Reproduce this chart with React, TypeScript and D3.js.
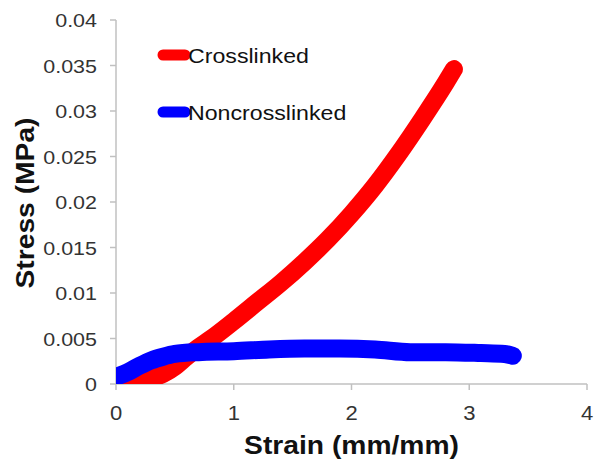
import React from "react";
import * as d3 from "d3";

const crossStrain = [0.12, 0.25, 0.4, 0.5, 0.6, 0.7, 0.8, 1.0, 1.2, 1.4, 1.6, 1.8, 2.0, 2.2, 2.4, 2.6, 2.8, 2.87];
const crossStress = [0.0, 0.0005, 0.0011, 0.0019, 0.003, 0.004, 0.0049, 0.0069, 0.009, 0.0111, 0.0134, 0.0159, 0.0187, 0.0218, 0.0253, 0.0291, 0.0331, 0.0346];

const nonStrain = [0.0, 0.1, 0.2, 0.3, 0.4, 0.5, 0.7, 1.0, 1.3, 1.6, 1.9, 2.2, 2.5, 2.8, 3.1, 3.3, 3.37];
const nonStress = [0.0008, 0.0013, 0.002, 0.0026, 0.003, 0.0033, 0.0035, 0.0036, 0.0038, 0.0039, 0.0039, 0.0038, 0.0035, 0.0035, 0.0034, 0.0033, 0.0031];

const xTicks = [0, 1, 2, 3, 4];
const yTicks = [0, 0.005, 0.01, 0.015, 0.02, 0.025, 0.03, 0.035, 0.04];
const yTickLabels = ["0", "0.005", "0.01", "0.015", "0.02", "0.025", "0.03", "0.035", "0.04"];

const seriesNames = ["Crosslinked", "Noncrosslinked"];
const seriesColors = ["#ff0000", "#0000ff"];

const W = 594;
const H = 463;
const SX = 1.13;
const FONT = "'Liberation Sans', Arial, sans-serif";

export default function App() {
  const x = d3.scaleLinear().domain([0, 4]).range([116, 587]);
  const y = d3.scaleLinear().domain([0, 0.04]).range([384, 20]);

  const line = d3
    .line<[number, number]>()
    .x((d) => x(d[0]))
    .y((d) => y(d[1]))
    .curve(d3.curveMonotoneX);

  const cross: [number, number][] = crossStrain.map((v, i) => [v, crossStress[i]]);
  const non: [number, number][] = nonStrain.map((v, i) => [v, nonStress[i]]);

  const axisColor = "#c0c0c0";

  return (
    <svg
      width={W}
      height={H}
      style={{ position: "absolute", left: 0, top: 0, background: "#fff" }}
    >
      <defs>
        <clipPath id="plotClip">
          <rect x={x(0)} y={0} width={x(4) - x(0) + 20} height={y(0) - 0} />
        </clipPath>
      </defs>
      {/* axes */}
      <line x1={x(0)} x2={x(0)} y1={y(0.04)} y2={y(0)} stroke={axisColor} strokeWidth={1.5} />
      <line x1={x(0)} x2={x(4)} y1={y(0)} y2={y(0)} stroke={axisColor} strokeWidth={1.5} />
      {yTicks.map((t, i) => (
        <g key={"y" + i}>
          <line x1={x(0) - 6} x2={x(0)} y1={y(t)} y2={y(t)} stroke={axisColor} strokeWidth={1.5} />
          <text
            transform={`translate(97,${y(t) + 7}) scale(${SX},1)`}
            textAnchor="end"
            fontFamily={FONT}
            fontSize={19}
            fill="#333"
          >
            {yTickLabels[i]}
          </text>
        </g>
      ))}
      {xTicks.map((t, i) => (
        <g key={"x" + i}>
          <line x1={x(t)} x2={x(t)} y1={y(0)} y2={y(0) + 6} stroke={axisColor} strokeWidth={1.5} />
          <text
            transform={`translate(${x(t)},${420}) scale(${SX},1)`}
            textAnchor="middle"
            fontFamily={FONT}
            fontSize={19.5}
            fill="#333"
          >
            {String(t)}
          </text>
        </g>
      ))}

      {/* data */}
      <g clipPath="url(#plotClip)">
        <path
          d={line(cross) || ""}
          fill="none"
          stroke={seriesColors[0]}
          strokeWidth={18}
          strokeLinecap="round"
          strokeLinejoin="round"
        />
        <path
          d={line(non) || ""}
          fill="none"
          stroke={seriesColors[1]}
          strokeWidth={18}
          strokeLinecap="round"
          strokeLinejoin="round"
        />
      </g>

      {/* legend */}
      {seriesNames.map((n, i) => {
        const ly = i === 0 ? 55 : 112;
        return (
          <g key={n}>
            <line x1={163} x2={185} y1={ly} y2={ly} stroke={seriesColors[i]} strokeWidth={11} strokeLinecap="round" />
            <text
              transform={`translate(188,${ly + 8}) scale(${SX},1)`}
              fontFamily={FONT}
              fontSize={20.5}
              fill="#111"
            >
              {n}
            </text>
          </g>
        );
      })}

      {/* titles */}
      <text
        transform={`translate(${(x(0) + x(4)) / 2},454) scale(${SX},1)`}
        textAnchor="middle"
        fontFamily={FONT}
        fontWeight="bold"
        fontSize={25}
        fill="#111"
      >
        Strain (mm/mm)
      </text>
      <text
        transform={`translate(34,203) rotate(-90) scale(${SX},1)`}
        textAnchor="middle"
        fontFamily={FONT}
        fontWeight="bold"
        fontSize={25}
        fill="#111"
      >
        Stress (MPa)
      </text>
    </svg>
  );
}
